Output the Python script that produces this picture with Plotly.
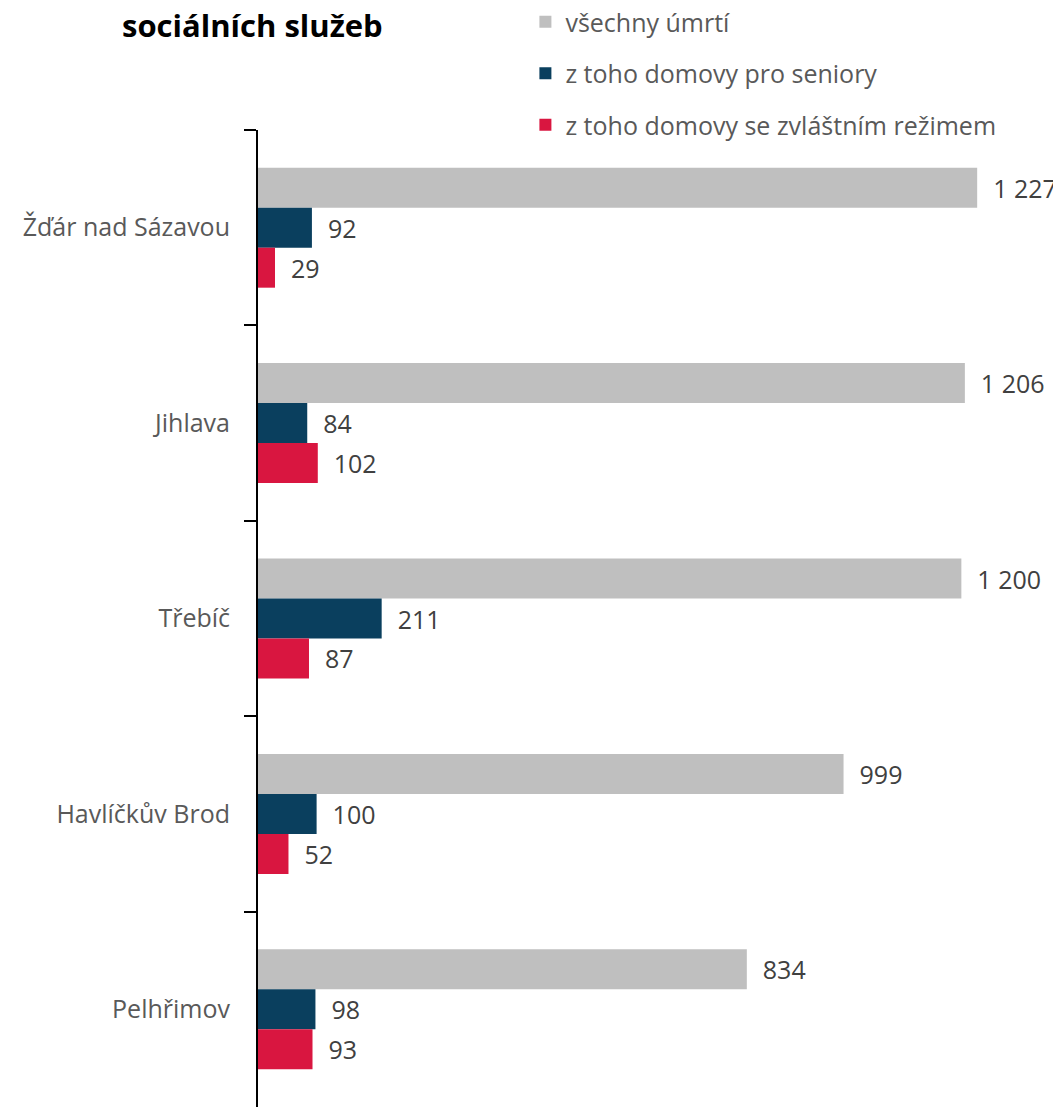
import plotly.graph_objects as go

categories = ["Žďár nad Sázavou", "Jihlava", "Třebíč", "Havlíčkův Brod", "Pelhřimov"]
series_names = ["všechny úmrtí", "z toho domovy pro seniory", "z toho domovy se zvláštním režimem"]
all_deaths = [1227, 1206, 1200, 999, 834]
senior_homes = [92, 84, 211, 100, 98]
special_homes = [29, 102, 87, 52, 93]
colors = ["#BFBFBF", "#0A3F5E", "#D91640"]

fig = go.Figure()
for i, (name, vals, col) in enumerate(zip(series_names, [all_deaths, senior_homes, special_homes], colors)):
    fig.add_trace(go.Bar(
        y=categories, x=vals, orientation="h", name=name,
        marker=dict(color=col, line=dict(width=0)),
        texttemplate="\u00a0\u00a0%{x:,}", textposition="outside",
        textfont=dict(family="Open Sans", size=25, color="#404040"),
        cliponaxis=False, legendgroup=f"g{i}",
    ))

fig.update_layout(
    width=1053, height=1099,
    margin=dict(l=250, r=0, t=122, b=0, autoexpand=False),
    paper_bgcolor="white", plot_bgcolor="white",
    separators=", ",
    barmode="group", bargap=0.386, bargroupgap=0.0,
    showlegend=True,
    legend=dict(x=0.333, xanchor="left", y=1.134, yanchor="top", yref="paper",
                traceorder="grouped", tracegroupgap=16,
                font=dict(family="Open Sans", size=25, color="#595959"),
                itemwidth=30, bgcolor="rgba(0,0,0,0)"),
    xaxis=dict(range=[0, 1370], showgrid=False, zeroline=False, showticklabels=False,
               showline=False, ticks="", automargin=False),
    yaxis=dict(autorange="reversed", showgrid=False, zeroline=False, automargin=False,
               showline=True, linecolor="black", linewidth=2,
               ticks="outside", ticklen=12, tickwidth=2, tickcolor="black",
               tickson="boundaries", ticklabelstandoff=21,
               tickfont=dict(family="Open Sans", size=25, color="#595959")),
    annotations=[dict(text="<b>sociálních služeb</b>", xref="paper", yref="paper",
                      x=-0.172, y=1.107, xanchor="left", yanchor="middle", showarrow=False,
                      font=dict(family="Open Sans", size=31, color="black"))],
)

fig.write_html("out.html")
